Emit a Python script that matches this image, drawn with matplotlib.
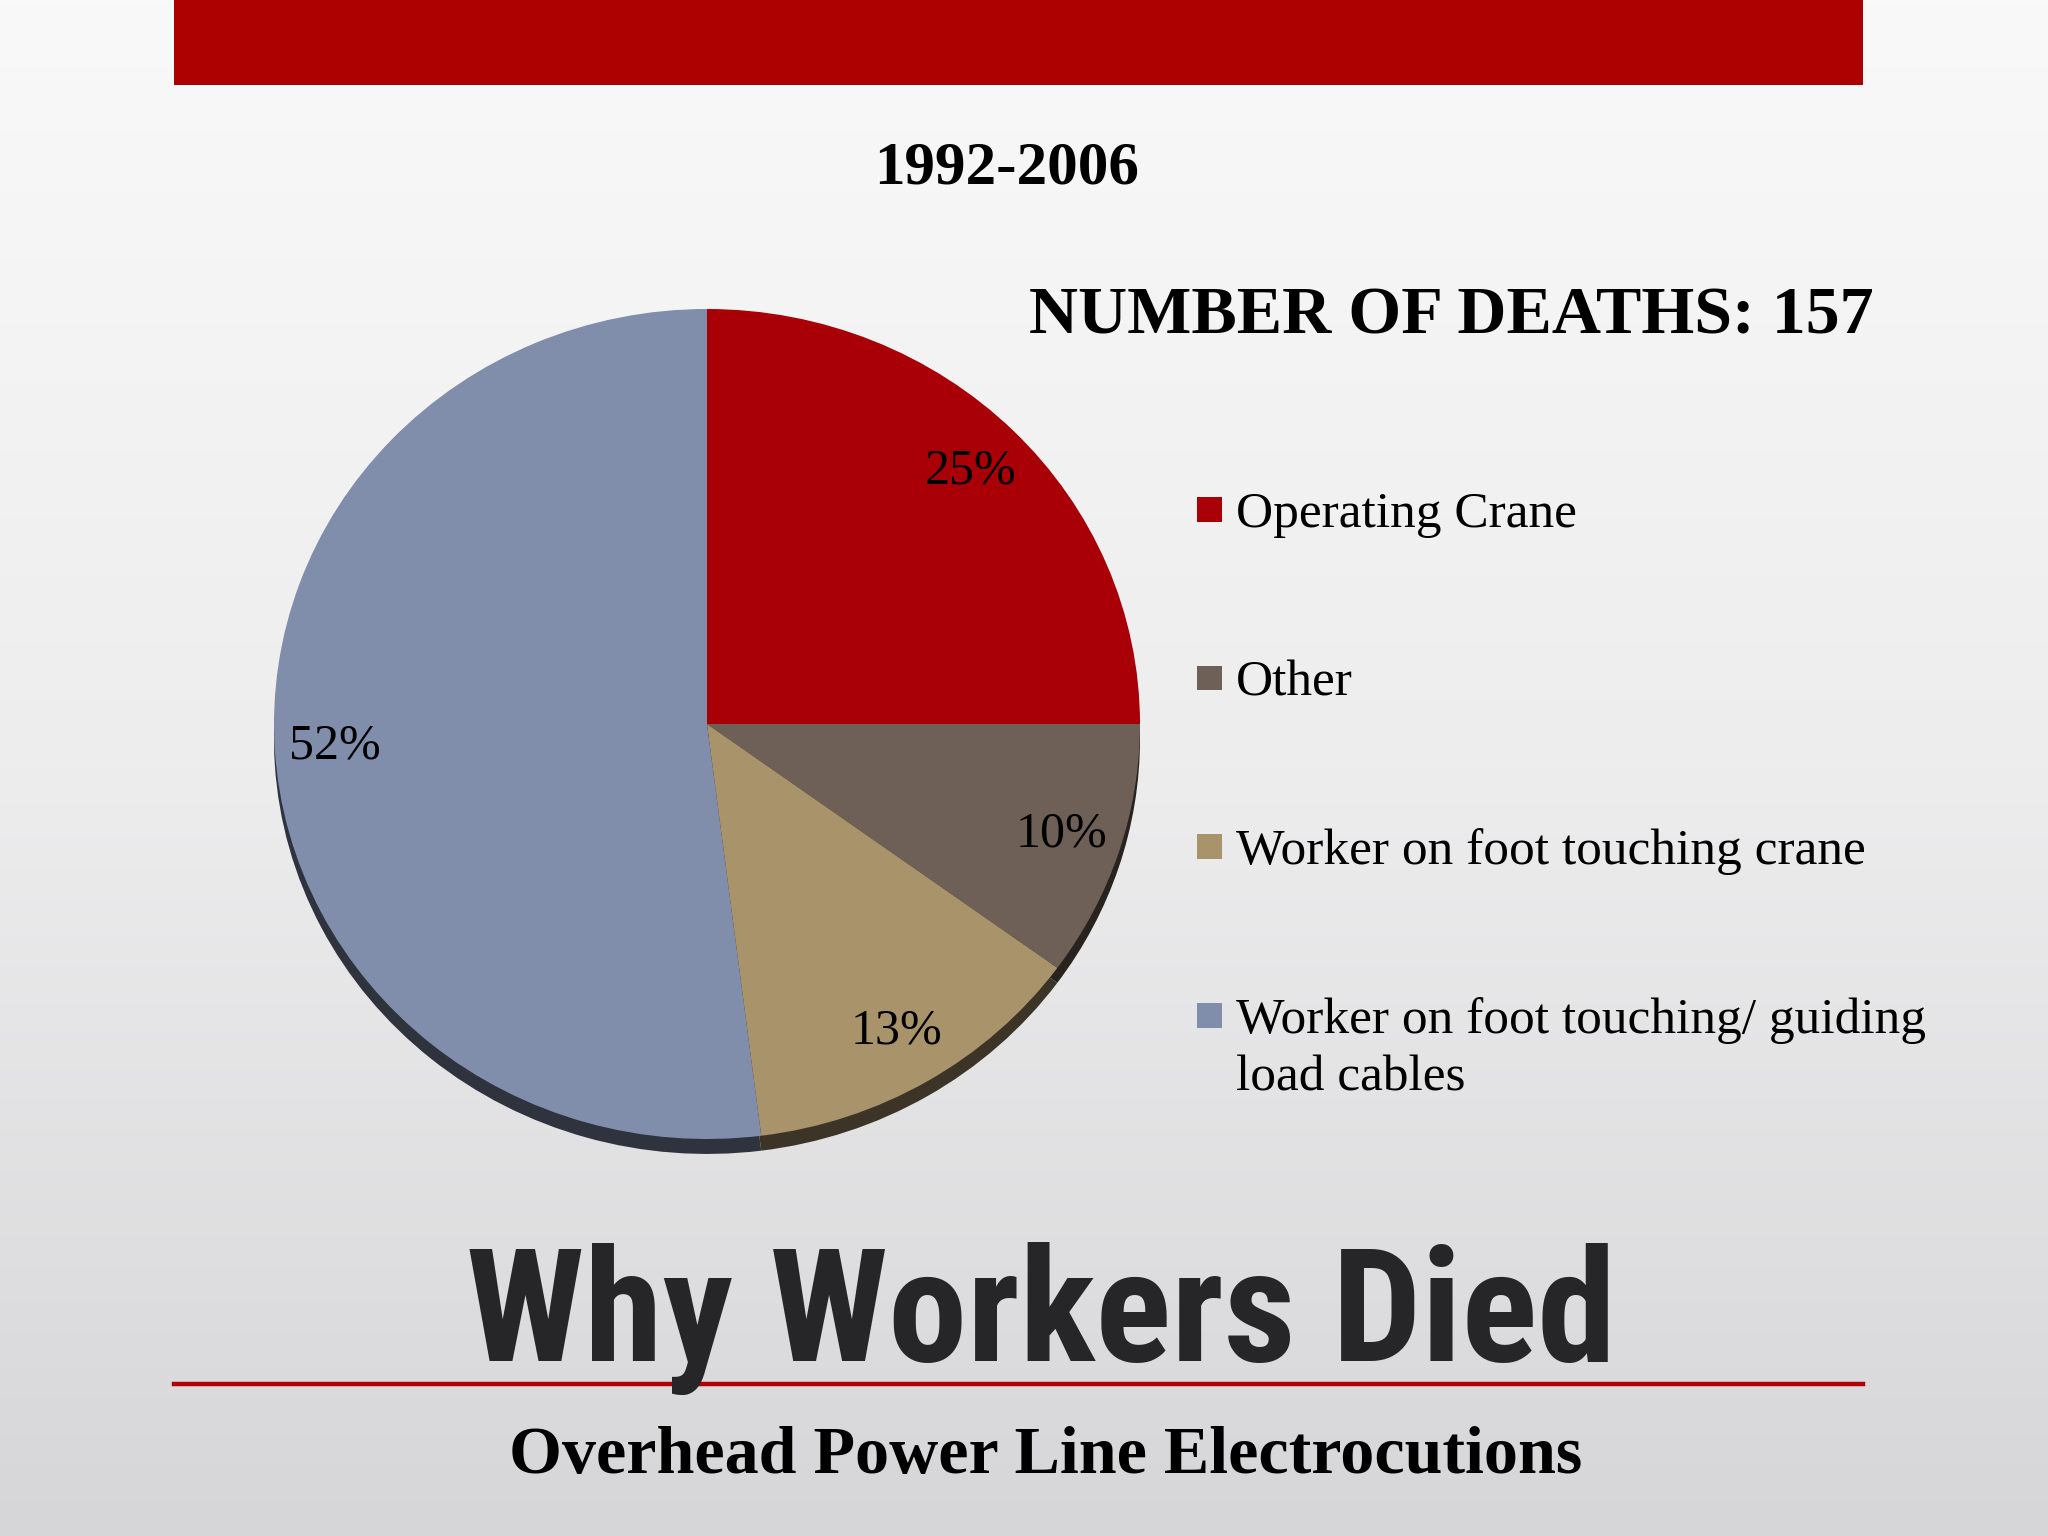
import numpy as np
import matplotlib
matplotlib.use('Agg')
import matplotlib.pyplot as plt
from matplotlib import font_manager
from matplotlib.colors import LinearSegmentedColormap, to_rgb
from matplotlib.patches import Rectangle

# data
categories = ['Operating Crane', 'Other', 'Worker on foot touching crane',
              'Worker on foot touching/ guiding\nload cables']
shares = [25, 10, 13, 52]
colors = ['#a90008', '#6e6057', '#a8936b', '#808dab']

period = '1992-2006'
total_label = 'NUMBER OF DEATHS: 157'
headline = 'Why Workers Died'
subtitle = 'Overhead Power Line Electrocutions'

W, H = 2048, 1536
SERIF = 'Liberation Serif'


def fx(x):
    return x / W


def fy(y):
    return 1 - y / H


# condensed heavy font for the headline, if we have one
head_font, head_size = 'DejaVu Sans', 92
for fam, size in [('Liberation Sans Narrow', 118), ('Roboto Condensed', 114)]:
    try:
        font_manager.findfont(font_manager.FontProperties(family=fam, weight='bold'),
                              fallback_to_default=False)
        head_font, head_size = fam, size
        break
    except ValueError:
        pass

fig = plt.figure(figsize=(W / 100, H / 100), dpi=100)

# slide background
bg = fig.add_axes([0, 0, 1, 1])
bg.axis('off')
grad = np.linspace(0, 1, 256)[:, None]
cmap = LinearSegmentedColormap.from_list('bg', ['#f9f9f9', '#ededee', '#d6d6d8'])
bg.imshow(grad, aspect='auto', cmap=cmap, extent=[0, 1, 0, 1], origin='upper')
bg.set_xlim(0, 1)
bg.set_ylim(0, 1)
bg.add_patch(Rectangle((fx(174), fy(85)), fx(1863) - fx(174), 85 / H, color='#ad0000', lw=0))
bg.plot([fx(174), fx(1863)], [fy(1384), fy(1384)], color='#b00000', lw=3.2)

# pie, slightly tilted (ellipse) with a dark rim below
rx, ry = 433, 415
cx, cy = 707, 724
ax = fig.add_axes([fx(cx - 1.1 * rx), fy(cy + 1.1 * ry), 2.2 * rx / W, 2.2 * ry / H])

shadow = [tuple(c * 0.36 for c in to_rgb(col)) for col in colors]
ax.pie(shares, colors=shadow, startangle=90, counterclock=False,
       center=(0, -0.036), wedgeprops=dict(linewidth=0))
wedges, texts, autotexts = ax.pie(
    shares, colors=colors, startangle=90, counterclock=False,
    autopct=lambda p: f'{p:.0f}%', pctdistance=0.86,
    textprops=dict(family=SERIF, fontsize=36, color='black'),
    wedgeprops=dict(linewidth=0))
ax.set_aspect('auto')
ax.set_xlim(-1.1, 1.1)
ax.set_ylim(-1.1, 1.1)
ax.axis('off')

# legend, drawn by hand so the marker sits on the first line of a wrapped label
leg_x, leg_y0, leg_step, line_step = 1197, 527, 168.5, 58
for i, (name, col) in enumerate(zip(categories, colors)):
    base = leg_y0 + i * leg_step
    bg.add_patch(Rectangle((fx(leg_x), fy(base - 5)), 25 / W, 25 / H, color=col, lw=0))
    for j, line in enumerate(name.split('\n')):
        fig.text(fx(leg_x + 39), fy(base + j * line_step), line, ha='left', va='baseline',
                 family=SERIF, fontsize=37)

# slide texts
fig.text(fx(1007), fy(183), period, ha='center', va='baseline',
         family=SERIF, weight='bold', fontsize=44)
fig.text(fx(1029), fy(333), total_label, ha='left', va='baseline',
         family=SERIF, weight='bold', fontsize=49)
fig.text(fx(1041), fy(1361), headline, ha='center', va='baseline',
         family=head_font, weight='bold', fontsize=head_size, color='#262628')
fig.text(fx(1046), fy(1473), subtitle, ha='center', va='baseline',
         family=SERIF, weight='bold', fontsize=49)

fig.savefig('out.png', dpi=100)
